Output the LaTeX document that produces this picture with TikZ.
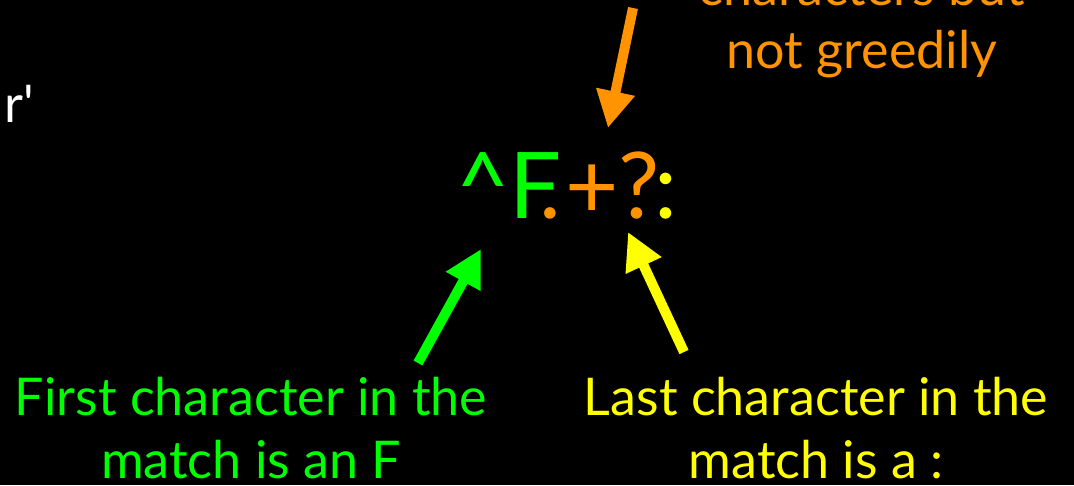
\documentclass[tikz,border=0pt]{standalone}
\usepackage{fontspec}
\setmainfont{Lato}
\usetikzlibrary{arrows.meta}
\definecolor{regexgreen}{RGB}{0,255,0}
\definecolor{regexorange}{RGB}{255,147,0}
\definecolor{regexyellow}{RGB}{255,255,0}

\begin{document}
\begin{tikzpicture}[x=1pt,y=-1pt]
\tikzset{
  notetext/.style={inner sep=0pt,align=center,font=\fontsize{52}{63}\selectfont},
  pointer/.style={line width=10pt,-{Triangle[length=37pt,width=37pt]}}
}
\fill[black] (0,0) rectangle (1074,485);
\useasboundingbox (0,0) rectangle (1074,485);
% pattern and the texts round it
\node[inner sep=0pt,anchor=base west,font=\fontsize{92}{110}\selectfont] (n_regex) at (456,218)
  {\textcolor{regexgreen}{\textasciicircum F}\kern-22pt\textcolor{regexorange}{.\kern4pt+?}\kern-5pt\textcolor{regexyellow}{:}};
\node[notetext,anchor=base west,text=white] (n_rest) at (4,122) {r\textquotesingle};
\node[notetext,anchor=base,text=regexorange] (n_lazy) at (862,68) {characters but\\not greedily};
\node[notetext,anchor=base,text=regexgreen] (n_first) at (251,478) {First character in the\\match is an F};
\node[notetext,anchor=base,text=regexyellow] (n_last) at (816,478) {Last character in the\\match is a :};
% arrow ends
\coordinate (a_lazy0) at (633,8);
\coordinate (a_lazy1) at (608,128);
\coordinate (a_first0) at (418,363);
\coordinate (a_first1) at (481,249);
\coordinate (a_last0) at (684,352);
\coordinate (a_last1) at (628,232);
\draw[pointer,draw=regexorange,fill=regexorange] (a_lazy0) -- (a_lazy1);
\draw[pointer,draw=regexgreen,fill=regexgreen] (a_first0) -- (a_first1);
\draw[pointer,draw=regexyellow,fill=regexyellow] (a_last0) -- (a_last1);
\end{tikzpicture}
\end{document}
